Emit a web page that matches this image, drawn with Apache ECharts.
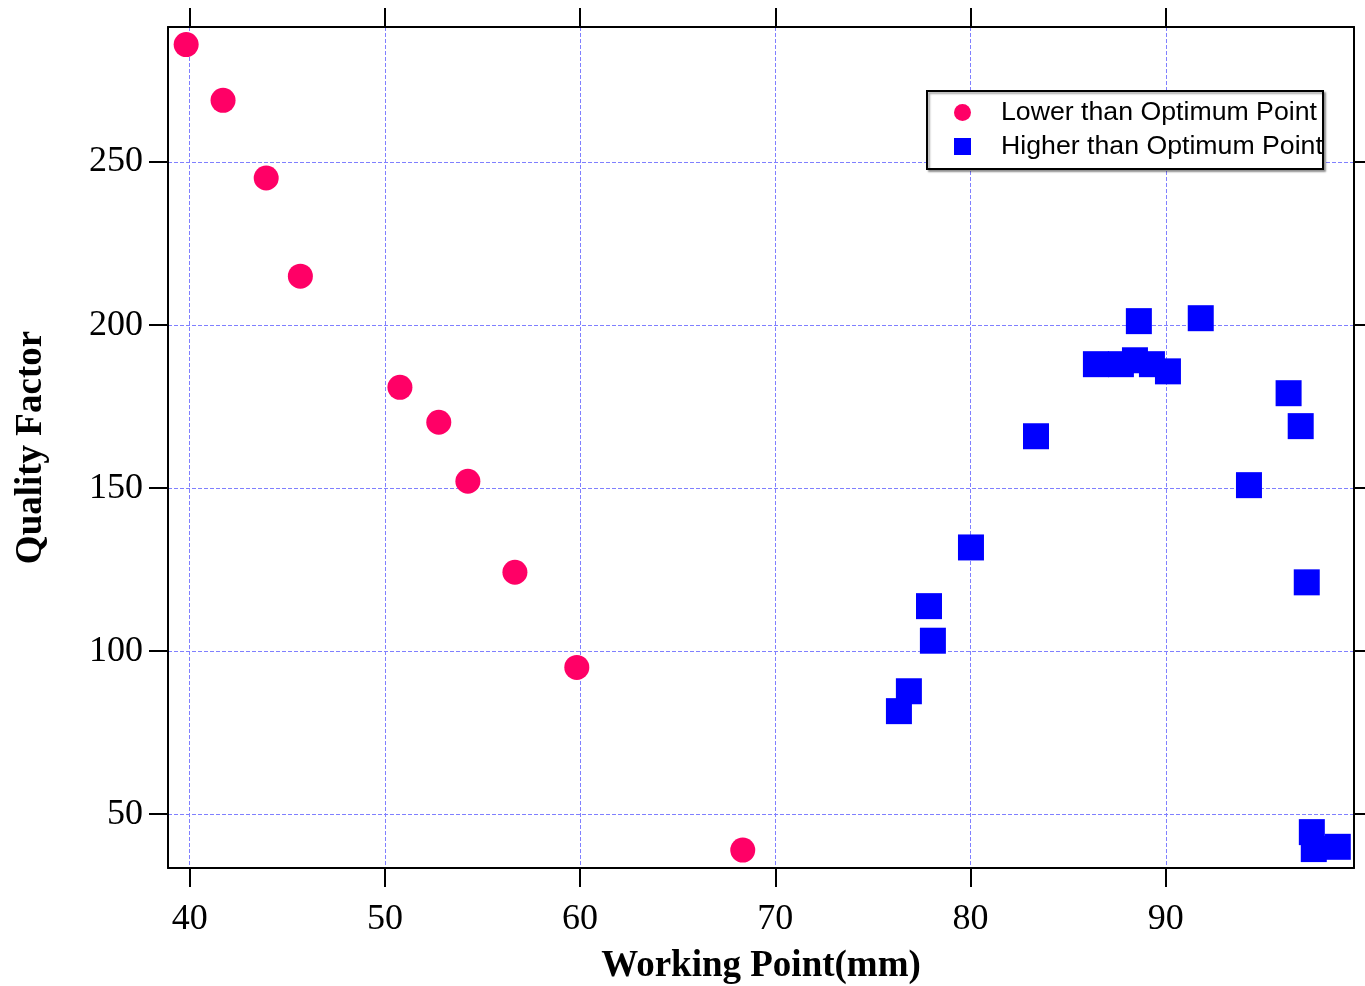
<!DOCTYPE html>
<html>
<head>
<meta charset="utf-8">
<script src="https://cdn.jsdelivr.net/npm/echarts@6/dist/echarts.min.js"></script>
<style>html,body{margin:0;padding:0;background:#fff;}#c{width:1365px;height:986px;}</style>
</head>
<body>
<div id="c"></div>
<script>
const xTicks = [40, 50, 60, 70, 80, 90];
const yTicks = [50, 100, 150, 200, 250];
const lowerX = [39.82, 41.71, 43.92, 45.67, 50.77, 52.76, 54.25, 56.66, 59.83, 68.33];
const lowerY = [286.0, 268.9, 245.1, 215.0, 180.9, 170.2, 152.1, 124.2, 95.0, 39.0];
const higherX = [76.33, 76.84, 77.87, 78.07, 80.02, 83.35, 86.42, 87.70, 88.42, 88.62, 89.29, 90.11, 91.79, 94.26, 96.29, 96.91, 97.22, 97.48, 97.58, 98.81];
const higherY = [81.6, 87.7, 113.8, 103.2, 131.8, 165.9, 188.0, 188.0, 189.2, 201.2, 188.0, 185.8, 202.1, 150.9, 179.1, 169.0, 121.1, 44.5, 39.3, 40.0];
const seriesNames = ['Lower than Optimum Point', 'Higher than Optimum Point'];

const xMin = 38.89, xMax = 99.64, yMin = 33.5, yMax = 291.4;
const serif = 'Liberation Serif';
const axisLineStyle = {color: '#000', width: 2};
const tickStyle = {length: 19, lineStyle: {color: '#000', width: 2}};
const gridLine = {show: true, lineStyle: {color: '#8080ff', width: 1, type: [4, 2]}};

const chart = echarts.init(document.getElementById('c'), null, {renderer: 'canvas'});
chart.setOption({
  animation: false,
  backgroundColor: '#fff',
  grid: {left: 168, right: 11, top: 27, bottom: 118, containLabel: false, outerBoundsMode: 'none'},
  xAxis: [{
    type: 'value', position: 'bottom', min: xMin, max: xMax,
    name: 'Working Point(mm)', nameLocation: 'middle', nameGap: 80,
    nameTextStyle: {fontFamily: serif, fontSize: 37, fontWeight: 'bold', color: '#000'},
    axisLine: {show: true, onZero: false, lineStyle: axisLineStyle},
    axisTick: Object.assign({show: true, inside: false, customValues: xTicks}, tickStyle),
    axisLabel: {customValues: xTicks, fontFamily: serif, fontSize: 36, color: '#000', margin: 34},
    splitLine: gridLine
  }, {
    type: 'value', position: 'top', min: xMin, max: xMax,
    axisLine: {show: true, onZero: false, lineStyle: axisLineStyle},
    axisTick: Object.assign({show: true, inside: false, customValues: xTicks}, tickStyle),
    axisLabel: {show: false},
    splitLine: {show: false}
  }],
  yAxis: [{
    type: 'value', position: 'left', min: yMin, max: yMax,
    name: 'Quality Factor', nameLocation: 'middle', nameGap: 118, nameRotate: 90,
    nameTextStyle: {fontFamily: serif, fontSize: 37, fontWeight: 'bold', color: '#000'},
    axisLine: {show: true, onZero: false, lineStyle: axisLineStyle},
    axisTick: Object.assign({show: true, inside: false, customValues: yTicks}, tickStyle),
    axisLabel: {customValues: yTicks, fontFamily: serif, fontSize: 36, color: '#000', margin: 25},
    splitLine: gridLine
  }, {
    type: 'value', position: 'right', min: yMin, max: yMax,
    axisLine: {show: true, onZero: false, lineStyle: axisLineStyle},
    axisTick: Object.assign({show: true, inside: false, customValues: yTicks}, tickStyle),
    axisLabel: {show: false},
    splitLine: {show: false}
  }],
  graphic: [{
    type: 'rect', z: 50,
    shape: {x: 927, y: 91, width: 396, height: 78},
    style: {fill: '#fff', stroke: '#000', lineWidth: 2, shadowBlur: 2, shadowOffsetX: 2, shadowOffsetY: 2, shadowColor: 'rgba(0,0,0,0.35)'}
  }],
  legend: {
    z: 100, orient: 'vertical', left: 954, top: 99, padding: 0,
    itemWidth: 17, itemHeight: 17, itemGap: 7,
    data: [{name: seriesNames[0], icon: 'circle'}, {name: seriesNames[1], icon: 'rect'}],
    textStyle: {fontFamily: 'Liberation Sans', fontSize: 26.7, color: '#000', lineHeight: 26, padding: [0, 0, 0, 25]},
    selectedMode: false
  },
  series: [{
    name: seriesNames[0], type: 'scatter', symbol: 'circle', symbolSize: 25,
    itemStyle: {color: '#ff0066', opacity: 1},
    data: lowerX.map((x, i) => [x, lowerY[i]])
  }, {
    name: seriesNames[1], type: 'scatter', symbol: 'rect', symbolSize: 26,
    itemStyle: {color: '#0000ff', opacity: 1},
    data: higherX.map((x, i) => [x, higherY[i]])
  }]
});
</script>
</body>
</html>
